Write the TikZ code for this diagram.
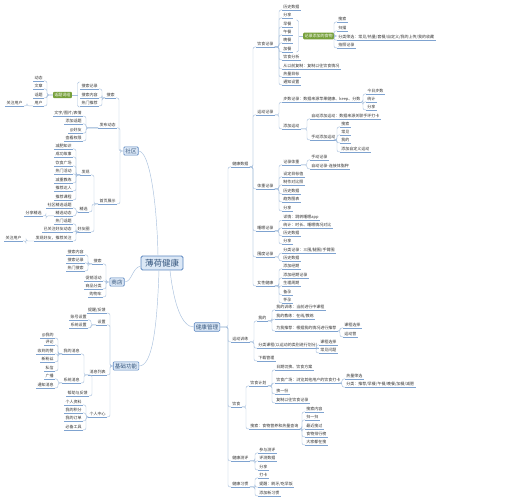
\documentclass[tikz,border=0pt]{standalone}
\usepackage{fontspec}
\setmainfont{Noto Sans CJK SC}
\definecolor{lnc}{HTML}{A9C1DE}
\definecolor{ulc}{HTML}{7FA3D0}
\definecolor{bxf}{HTML}{DCE8F6}
\definecolor{bxd}{HTML}{5B86C0}
\definecolor{bxt}{HTML}{34557D}
\definecolor{grn}{HTML}{76A03A}
\definecolor{txt}{HTML}{333333}
\newcommand\mmfs{\fontsize{4.0}{4.8}\selectfont}
\newcommand\mmfm{\fontsize{5.6}{6.5}\selectfont}
\newcommand\mmfl{\fontsize{8.5}{10}\selectfont}
\tikzset{
  ul/.style={draw=ulc,line width=0.5pt},
  tb/.style={font=\mmfs,text=txt,inner xsep=1.2pt,inner ysep=0.9pt},
  rt/.style={tb,anchor=west,append after command={(\tikzlastnode.south west) edge[ul] (\tikzlastnode.south east)}},
  lt/.style={tb,anchor=east,append after command={(\tikzlastnode.south west) edge[ul] (\tikzlastnode.south east)}},
  conn/.style={draw=lnc,line width=0.45pt,rounded corners=2pt},
  topic/.style={draw=bxd,fill=bxf,text=bxt,font=\mmfm,inner sep=1.6pt,rounded corners=1pt,line width=0.6pt},
  rootbox/.style={draw=bxd,fill=bxf,text=bxt,font=\mmfl,inner xsep=4pt,inner ysep=3pt,rounded corners=1.5pt,line width=0.9pt},
  gbox/.style={fill=grn,text=white,font=\mmfs,inner sep=1.4pt,rounded corners=1pt},
}
\newcommand\mmR[2]{\draw[conn] (#1.south east) -| ([xshift=-3pt]#2.south west) -- (#2.south west);}
\newcommand\mmL[2]{\draw[conn] (#1.south west) -| ([xshift=3pt]#2.south east) -- (#2.south east);}
\newcommand\mmRB[2]{\draw[conn] (#1.east) -| ([xshift=-3pt]#2.south west) -- (#2.south west);}
\newcommand\mmLB[2]{\draw[conn] (#1.west) -| ([xshift=3pt]#2.south east) -- (#2.south east);}
\begin{document}
\begin{tikzpicture}[x=1pt,y=-1pt]
\fill[white] (0,0) rectangle (511,500);
\useasboundingbox (0,0) rectangle (511,500);

\node[rootbox] (root) at (162,263) {薄荷健康};

% ================= RIGHT =================
\node[topic] (jkgl) at (207,327) {健康管理};
\node[rt] (jksj) at (231,164) {健康数据};
\node[rt] (ydxl) at (231,339) {运动训练};
\node[rt] (ys) at (231,404) {饮食};
\node[rt] (cp) at (231,458) {健康测评};
\node[rt] (xg) at (231,484) {健康习惯};
\foreach \c in {jksj,ydxl,ys,cp,xg} {\mmRB{jkgl}{\c}}

% 健康数据
\node[rt] (ysjl) at (256,44) {饮食记录};
\node[rt] (ydjl) at (256,112) {运动记录};
\node[rt] (tzjl) at (256,186) {体重记录};
\node[rt] (smjl) at (256,228) {睡眠记录};
\node[rt] (wdjl) at (256,254) {围度记录};
\node[rt] (nxjk) at (256,283) {女性健康};
\foreach \c in {ysjl,ydjl,tzjl,smjl,wdjl,nxjk} {\mmR{jksj}{\c}}

% 饮食记录
\node[rt] (y1) at (282,7) {历史数据};
\node[rt] (y2) at (282,15) {分享};
\node[rt] (y3) at (282,24) {早餐};
\node[rt] (y4) at (282,32) {午餐};
\node[rt] (y5) at (282,40) {晚餐};
\node[rt] (y6) at (282,49) {加餐};
\node[rt] (y7) at (282,57) {饮食分析};
\node[rt] (y8) at (282,66) {从以前复制：复制以往饮食情况};
\node[rt] (y9) at (282,74) {热量目标};
\node[rt] (y10) at (282,82) {通知设置};
\foreach \c in {y1,y2,y3,y4,y5,y6,y7,y8,y9,y10} {\mmR{ysjl}{\c}}
\node[gbox,anchor=west] (food) at (303,36) {记录添加的食物};
\coordinate (bt1) at (296,20);
\coordinate (bb1) at (296,52);
\draw[conn,rounded corners=1.5pt] (bt1) -- ++(2.5,0) |- (bb1);
\draw[conn] (food.west) -- ++(-4.5,0);
\node[rt] (f1) at (337,19) {搜索};
\node[rt] (f2) at (337,28) {扫描};
\node[rt] (f3) at (337,37) {分类筛选：常见/热量/套餐/自定义/我的上传/我的收藏};
\node[rt] (f4) at (337,45) {拍照记录};
\foreach \c in {f1,f2,f3,f4} {\mmRB{food}{\c}}

% 运动记录
\node[rt] (s1) at (282,99) {步数记录：数据来源苹果健康、keep、分数};
\node[rt] (s2) at (282,126) {添加运动};
\foreach \c in {s1,s2} {\mmR{ydjl}{\c}}
\node[rt] (s11) at (366,91) {今日步数};
\node[rt] (s12) at (366,99) {统计};
\node[rt] (s13) at (366,107) {分享};
\foreach \c in {s11,s12,s13} {\mmR{s1}{\c}}
\node[rt] (s21) at (310,116) {自动添加运动：数据来源关联手环打卡};
\node[rt] (s22) at (310,137) {手动添加运动};
\foreach \c in {s21,s22} {\mmR{s2}{\c}}
\node[rt] (s221) at (340,124) {搜索};
\node[rt] (s222) at (340,132) {常见};
\node[rt] (s223) at (340,140) {我的};
\node[rt] (s224) at (340,149) {添加自定义运动};
\foreach \c in {s221,s222,s223,s224} {\mmR{s22}{\c}}

% 体重记录
\node[rt] (w1) at (282,162) {记录体重};
\node[rt] (w2) at (282,174) {设定目标值};
\node[rt] (w3) at (282,182) {制作对比照};
\node[rt] (w4) at (282,191) {历史数据};
\node[rt] (w5) at (282,199) {趋势图表};
\node[rt] (w6) at (282,208) {分享};
\foreach \c in {w1,w2,w3,w4,w5,w6} {\mmR{tzjl}{\c}}
\node[rt] (w11) at (310,157) {手动记录};
\node[rt] (w12) at (310,166) {自动记录-连接体脂秤};
\foreach \c in {w11,w12} {\mmR{w1}{\c}}

% 睡眠记录
\node[rt] (sl1) at (282,217) {详情：跳转睡眠app};
\node[rt] (sl2) at (282,225) {统计：时长、睡眠情况对比};
\node[rt] (sl3) at (282,233) {历史数据};
\node[rt] (sl4) at (282,241) {分享};
\foreach \c in {sl1,sl2,sl3,sl4} {\mmR{smjl}{\c}}

% 围度记录
\node[rt] (d1) at (282,250) {分类记录：三围/腿围/手臂围};
\node[rt] (d2) at (282,258) {历史数据};
\foreach \c in {d1,d2} {\mmR{wdjl}{\c}}

% 女性健康
\node[rt] (n1) at (282,266) {添加经期};
\node[rt] (n2) at (282,275) {添加经期记录};
\node[rt] (n3) at (282,283) {生理周期};
\node[rt] (n4) at (282,292) {备孕};
\node[rt] (n5) at (282,300) {怀孕};
\foreach \c in {n1,n2,n3,n4,n5} {\mmR{nxjk}{\c}}

% 运动训练
\node[rt] (wd) at (257,318) {我的};
\node[rt] (fl) at (257,345) {分类课程(以运动的类别进行划分)};
\node[rt] (xz) at (257,358) {下载管理};
\foreach \c in {wd,fl,xz} {\mmR{ydxl}{\c}}
\node[rt] (wd1) at (275,307) {我的训练：当前进行中课程};
\node[rt] (wd2) at (275,316) {我的教练：在线/教练};
\node[rt] (wd3) at (275,328) {为我推荐：根据我的情况进行推荐};
\foreach \c in {wd1,wd2,wd3} {\mmR{wd}{\c}}
\node[rt] (wd31) at (343,325) {课程选择};
\node[rt] (wd32) at (343,334) {运动营};
\foreach \c in {wd31,wd32} {\mmR{wd3}{\c}}
\node[rt] (fl1) at (319,342) {课程选择};
\node[rt] (fl2) at (319,350) {常见问题};
\foreach \c in {fl1,fl2} {\mmR{fl}{\c}}

% 饮食
\node[rt] (jh) at (249,383) {饮食计划};
\node[rt] (ss) at (249,426) {搜索：食物营养和热量查询};
\foreach \c in {jh,ss} {\mmR{ys}{\c}}
\node[rt] (jh1) at (275,367) {日期切换、饮食方案};
\node[rt] (jh2) at (275,380) {饮食广场：浏览其他用户的饮食打卡};
\node[rt] (jh3) at (275,391) {换一份};
\node[rt] (jh4) at (275,400) {复制以往饮食记录};
\foreach \c in {jh1,jh2,jh3,jh4} {\mmR{jh}{\c}}
\node[rt] (jh21) at (345,376) {热量筛选};
\node[rt] (jh22) at (345,384) {分类：推荐/早餐/午餐/晚餐/加餐/减肥};
\foreach \c in {jh21,jh22} {\mmR{jh2}{\c}}
\node[rt] (ss1) at (305,409) {搜索内容};
\node[rt] (ss2) at (305,417) {扫一扫};
\node[rt] (ss3) at (305,426) {最近搜过};
\node[rt] (ss4) at (305,434) {食物排行榜};
\node[rt] (ss5) at (305,442) {大家都在搜};
\foreach \c in {ss1,ss2,ss3,ss4,ss5} {\mmR{ss}{\c}}

% 健康测评
\node[rt] (cp1) at (258,450) {参与测评};
\node[rt] (cp2) at (258,458) {评测数据};
\node[rt] (cp3) at (258,467) {分享};
\foreach \c in {cp1,cp2,cp3} {\mmR{cp}{\c}}

% 健康习惯
\node[rt] (xg1) at (258,475) {打卡};
\node[rt] (xg2) at (258,484) {提醒：刷牙/吃早饭};
\node[rt] (xg3) at (258,493) {添加新习惯};
\foreach \c in {xg1,xg2,xg3} {\mmR{xg}{\c}}

% ================= LEFT =================
\node[topic] (sq) at (131,151) {社区};
\node[lt] (ssq) at (116,95) {搜索};
\node[lt] (fb) at (117,125) {发布动态};
\node[lt] (sy) at (117,201) {首页展示};
\foreach \c in {ssq,fb,sy} {\mmLB{sq}{\c}}

\node[lt] (a1) at (99,86) {搜索记录};
\node[lt] (a2) at (99,95) {搜索内容};
\node[lt] (a3) at (99,103) {热门推荐};
\foreach \c in {a1,a2,a3} {\mmL{ssq}{\c}}
\node[gbox,anchor=east] (htcz) at (72,95) {话题词组};
\coordinate (bt2) at (80,82);
\coordinate (bb2) at (80,107);
\draw[conn,rounded corners=1.5pt] (bt2) -- ++(-2.5,0) |- (bb2);
\draw[conn] (htcz.east) -- ++(5.5,0);
\node[lt] (b1) at (44,78) {动态};
\node[lt] (b2) at (44,86) {文章};
\node[lt] (b3) at (44,95) {话题};
\node[lt] (b4) at (44,103) {用户};
\foreach \c in {b1,b2,b3,b4} {\mmLB{htcz}{\c}}
\node[lt] (b41) at (24,103) {关注用户};
\mmL{b4}{b41}

\node[lt] (c1) at (83,113) {文字/图片/表情};
\node[lt] (c2) at (83,121) {添加话题};
\node[lt] (c3) at (83,130) {@好友};
\node[lt] (c4) at (83,138) {查看权限};
\foreach \c in {c1,c2,c3,c4} {\mmL{fb}{\c}}

\node[lt] (fx) at (91,172) {发现};
\node[lt] (jx) at (89,209) {精选};
\node[lt] (hyq) at (91,229) {好友圈};
\foreach \c in {fx,jx,hyq} {\mmL{sy}{\c}}
\node[lt] (e1) at (73,146) {减肥知识};
\node[lt] (e2) at (73,154) {成功故事};
\node[lt] (e3) at (73,163) {饮食广场};
\node[lt] (e4) at (73,171) {热门活动};
\node[lt] (e5) at (73,180) {减重教练};
\node[lt] (e6) at (73,188) {推荐达人};
\node[lt] (e7) at (73,197) {推荐课程};
\foreach \c in {e1,e2,e3,e4,e5,e6,e7} {\mmL{fx}{\c}}
\node[lt] (g1) at (73,205) {社区精选话题};
\node[lt] (g2) at (73,213) {精选动态};
\foreach \c in {g1,g2} {\mmL{jx}{\c}}
\node[lt] (g21) at (43,213) {分享精选};
\mmL{g2}{g21}
\node[lt] (h1) at (73,221) {热门话题};
\node[lt] (h2) at (73,229) {已关注好友动态};
\node[lt] (h3) at (73,238) {发现好友，推荐关注};
\foreach \c in {h1,h2,h3} {\mmL{hyq}{\c}}
\node[lt] (h31) at (23,238) {关注用户};
\mmL{h3}{h31}

% 商店
\node[topic] (sd) at (117,282) {商店};
\node[lt] (sds) at (103,261) {搜索};
\node[lt] (i4) at (103,278) {促销活动};
\node[lt] (i5) at (103,286) {商品分类};
\node[lt] (i6) at (103,294) {购物车};
\foreach \c in {sds,i4,i5,i6} {\mmLB{sd}{\c}}
\node[lt] (i1) at (85,252) {搜索内容};
\node[lt] (i2) at (85,260) {搜索记录};
\node[lt] (i3) at (85,268) {热门搜索};
\foreach \c in {i1,i2,i3} {\mmL{sds}{\c}}

% 基础功能
\node[topic] (jc) at (126,366) {基础功能};
\node[lt] (j1) at (107,310) {提醒/反馈};
\node[lt] (sz) at (107,322) {设置};
\node[lt] (xx) at (107,372) {消息列表};
\node[lt] (gr) at (107,414) {个人中心};
\foreach \c in {j1,sz,xx,gr} {\mmLB{jc}{\c}}
\node[lt] (k1) at (88,317) {账号设置};
\node[lt] (k2) at (88,325) {系统设置};
\foreach \c in {k1,k2} {\mmL{sz}{\c}}
\node[lt] (wdxx) at (81,351) {我的消息};
\node[lt] (xtxx) at (81,380) {系统消息};
\node[lt] (bz) at (89,393) {帮助与反馈};
\foreach \c in {wdxx,xtxx,bz} {\mmL{xx}{\c}}
\node[lt] (l1) at (55,335) {@我的};
\node[lt] (l2) at (55,342) {评论};
\node[lt] (l3) at (55,351) {收到的赞};
\node[lt] (l4) at (55,359) {新粉丝};
\node[lt] (l5) at (55,368) {私信};
\foreach \c in {l1,l2,l3,l4,l5} {\mmL{wdxx}{\c}}
\node[lt] (l6) at (55,376) {广播};
\node[lt] (l7) at (55,385) {通知消息};
\foreach \c in {l6,l7} {\mmL{xtxx}{\c}}
\node[lt] (gr1) at (83,402) {个人资料};
\node[lt] (gr2) at (83,410) {我的积分};
\node[lt] (gr3) at (83,418) {我的订单};
\node[lt] (gr4) at (83,427) {必备工具};
\foreach \c in {gr1,gr2,gr3,gr4} {\mmL{gr}{\c}}

% ================= ROOT LINKS =================
\draw[conn] ([xshift=-4pt]root.north) .. controls (157,205) and (150,151) .. (sq.east);
\draw[conn] ([yshift=-3pt]root.west) .. controls (132,268) and (132,282) .. (sd.east);
\draw[conn] ([xshift=-3pt]root.south) .. controls (157,330) and (152,366) .. (jc.east);
\draw[conn] ([xshift=8pt]root.south) .. controls (174,305) and (182,327) .. (jkgl.west);
\end{tikzpicture}
\end{document}
